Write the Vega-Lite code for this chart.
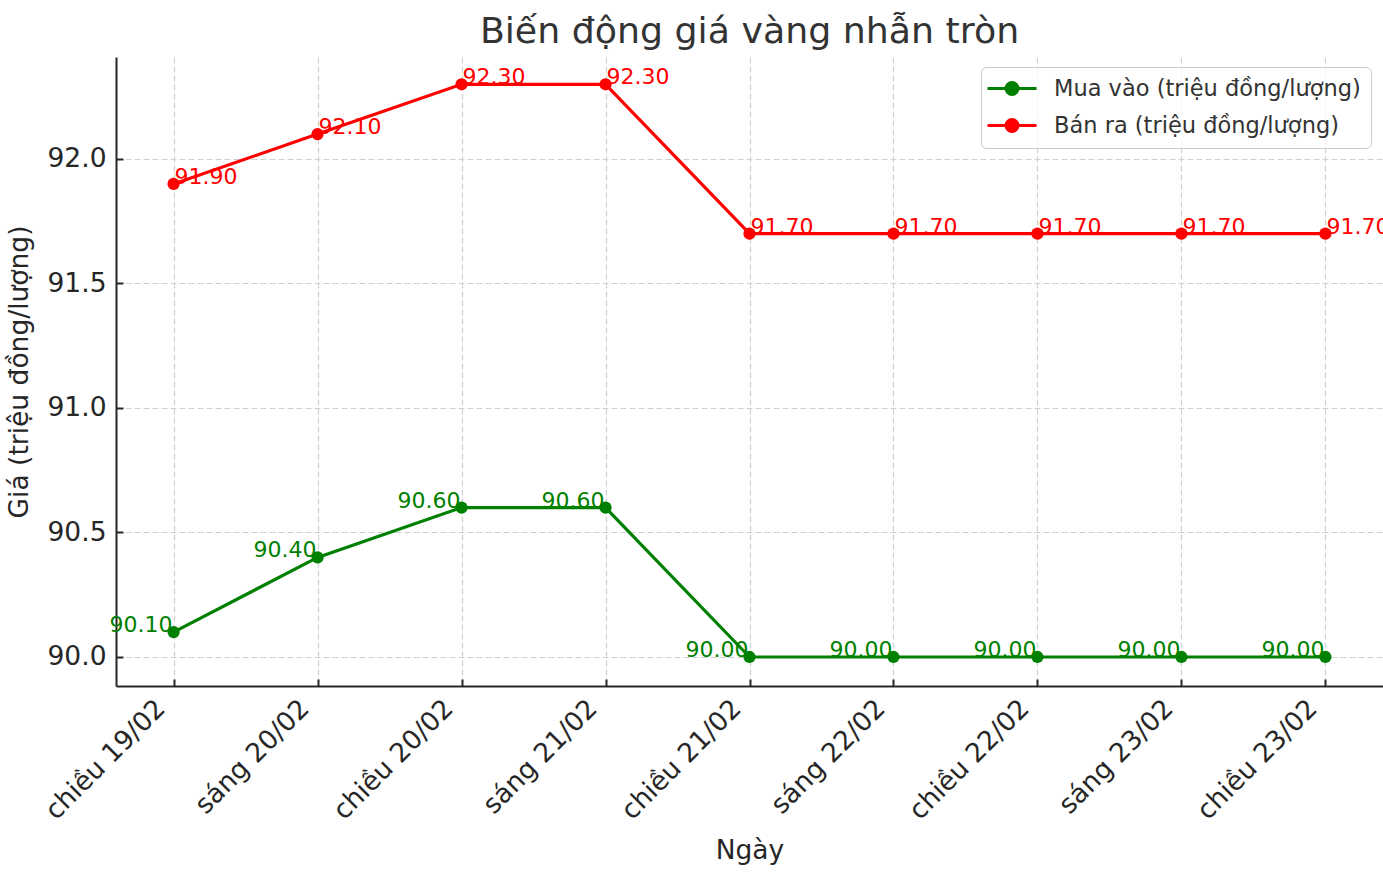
{
  "$schema": "https://vega.github.io/schema/vega-lite/v6.json",
  "width": 1267,
  "height": 629,
  "autosize": {"type": "none"},
  "padding": {"left": 116, "top": 57, "right": 0, "bottom": 187},
  "background": "white",
  "config": {"view": {"stroke": null}, "font": "DejaVu Sans"},
  "title": {"text": "Biến động giá vàng nhẫn tròn", "fontSize": 36.3, "fontWeight": "normal", "color": "#333333", "anchor": "middle", "offset": 7, "font": "DejaVu Sans"},
  "data": {"values": [
    {"ngay": "chiều 19/02", "loai": "Mua vào (triệu đồng/lượng)", "gia": 90.1},
    {"ngay": "sáng 20/02", "loai": "Mua vào (triệu đồng/lượng)", "gia": 90.4},
    {"ngay": "chiều 20/02", "loai": "Mua vào (triệu đồng/lượng)", "gia": 90.6},
    {"ngay": "sáng 21/02", "loai": "Mua vào (triệu đồng/lượng)", "gia": 90.6},
    {"ngay": "chiều 21/02", "loai": "Mua vào (triệu đồng/lượng)", "gia": 90.0},
    {"ngay": "sáng 22/02", "loai": "Mua vào (triệu đồng/lượng)", "gia": 90.0},
    {"ngay": "chiều 22/02", "loai": "Mua vào (triệu đồng/lượng)", "gia": 90.0},
    {"ngay": "sáng 23/02", "loai": "Mua vào (triệu đồng/lượng)", "gia": 90.0},
    {"ngay": "chiều 23/02", "loai": "Mua vào (triệu đồng/lượng)", "gia": 90.0},
    {"ngay": "chiều 19/02", "loai": "Bán ra (triệu đồng/lượng)", "gia": 91.9},
    {"ngay": "sáng 20/02", "loai": "Bán ra (triệu đồng/lượng)", "gia": 92.1},
    {"ngay": "chiều 20/02", "loai": "Bán ra (triệu đồng/lượng)", "gia": 92.3},
    {"ngay": "sáng 21/02", "loai": "Bán ra (triệu đồng/lượng)", "gia": 92.3},
    {"ngay": "chiều 21/02", "loai": "Bán ra (triệu đồng/lượng)", "gia": 91.7},
    {"ngay": "sáng 22/02", "loai": "Bán ra (triệu đồng/lượng)", "gia": 91.7},
    {"ngay": "chiều 22/02", "loai": "Bán ra (triệu đồng/lượng)", "gia": 91.7},
    {"ngay": "sáng 23/02", "loai": "Bán ra (triệu đồng/lượng)", "gia": 91.7},
    {"ngay": "chiều 23/02", "loai": "Bán ra (triệu đồng/lượng)", "gia": 91.7}
  ]},
  "encoding": {
    "x": {
      "field": "ngay", "type": "ordinal", "sort": null,
      "scale": {"type": "point", "padding": 0.4},
      "axis": {
        "title": "Ngày", "titleFontSize": 26.5, "titleFont": "DejaVu Sans", "titleFontWeight": "normal", "titleColor": "#262626", "titlePadding": 13,
        "labelAngle": -45, "labelAlign": "right", "labelBaseline": "middle", "labelOffset": -13, "labelPadding": 25,
        "labelFontSize": 26.5, "labelColor": "#262626", "labelOverlap": false, "labelBound": false,
        "tickSize": -7, "tickWidth": 2, "tickColor": "#262626",
        "domainColor": "#262626", "domainWidth": 2,
        "grid": true, "gridDash": [6, 3], "gridColor": "#d0d0d0", "gridWidth": 1.2
      }
    },
    "y": {
      "field": "gia", "type": "quantitative",
      "scale": {"domain": [89.8835, 92.4096], "nice": false, "zero": false},
      "axis": {
        "title": "Giá (triệu đồng/lượng)", "titleFontSize": 26.5, "titleFont": "DejaVu Sans", "titleFontWeight": "normal", "titleColor": "#262626", "titlePadding": 13,
        "values": [90, 90.5, 91, 91.5, 92], "format": ".1f",
        "labelFontSize": 26.5, "labelColor": "#262626", "labelPadding": 17,
        "tickSize": -7, "tickWidth": 2, "tickColor": "#262626",
        "domainColor": "#262626", "domainWidth": 2,
        "grid": true, "gridDash": [6, 3], "gridColor": "#d0d0d0", "gridWidth": 1.2
      }
    }
  },
  "layer": [
    {
      "mark": {"type": "line", "strokeWidth": 3.2},
      "encoding": {
        "color": {
          "field": "loai", "type": "nominal", "sort": null,
          "scale": {"domain": ["Mua vào (triệu đồng/lượng)", "Bán ra (triệu đồng/lượng)"], "range": ["#008000", "#ff0000"]},
          "legend": {
            "orient": "none", "legendX": 865, "legendY": 10, "title": null,
            "labelFontSize": 22.5, "labelColor": "#333333", "labelFont": "DejaVu Sans", "labelLimit": 0,
            "symbolType": "M-1.5,0L3.4,0M1.55,0A0.6,0.6,0,1,1,0.35,0A0.6,0.6,0,1,1,1.55,0Z",
            "symbolSize": 400, "symbolStrokeWidth": 3,
            "labelOffset": 40, "rowPadding": 12, "padding": 10,
            "strokeColor": "#cccccc", "fillColor": "rgba(255,255,255,0.8)", "cornerRadius": 5,
            "encode": {"symbols": {"update": {"fill": {"scale": "color", "field": "value"}, "stroke": {"scale": "color", "field": "value"}}}}
          }
        }
      }
    },
    {
      "mark": {"type": "point", "filled": true, "size": 150, "opacity": 1},
      "encoding": {"color": {"field": "loai", "type": "nominal", "legend": null}}
    },
    {
      "transform": [{"filter": "datum.loai === 'Bán ra (triệu đồng/lượng)'"}],
      "mark": {"type": "text", "align": "left", "baseline": "alphabetic", "dx": 1, "fontSize": 22, "color": "#ff0000", "font": "DejaVu Sans"},
      "encoding": {"text": {"field": "gia", "type": "quantitative", "format": ".2f"}}
    },
    {
      "transform": [{"filter": "datum.loai === 'Mua vào (triệu đồng/lượng)'"}],
      "mark": {"type": "text", "align": "right", "baseline": "alphabetic", "dx": -1, "fontSize": 22, "color": "#008000", "font": "DejaVu Sans"},
      "encoding": {"text": {"field": "gia", "type": "quantitative", "format": ".2f"}}
    }
  ]
}
